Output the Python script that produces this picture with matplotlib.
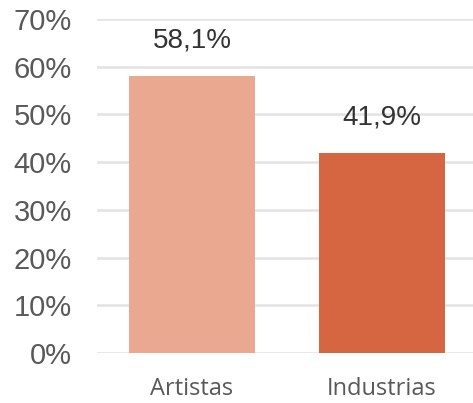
import matplotlib
matplotlib.use("Agg")
import matplotlib.pyplot as plt
from matplotlib.ticker import FuncFormatter

categories = ["Artistas", "Industrias"]
values = [58.1, 41.9]
value_labels = ["58,1%", "41,9%"]
colors = ["#EBA890", "#D66542"]
yticks = [0, 10, 20, 30, 40, 50, 60, 70]

fig = plt.figure(figsize=(4.73, 4.03), dpi=100)
ax = fig.add_axes([0.205, 0.124, 0.795, 0.829])

x = range(len(categories))
bars = ax.bar(x, values, width=0.665, color=colors, zorder=3)

for b, lab in zip(bars, value_labels):
    ax.annotate(lab, (b.get_x() + b.get_width() / 2, b.get_height()),
                xytext=(0, 16), textcoords="offset points", ha="center", va="bottom",
                fontsize=20, color="#333333", family="Liberation Sans")

ax.set_ylim(0, 70)
ax.set_xlim(-0.5, 1.48)
ax.set_yticks(yticks)
ax.yaxis.set_major_formatter(FuncFormatter(lambda v, p: f"{v:.0f}%"))
ax.grid(axis="y", color="#E3E3E3", lw=1.8, zorder=0)
ax.set_xticks(list(x), categories)
for lab in ax.get_yticklabels():
    lab.set_family("Liberation Sans")
    lab.set_fontsize(21)
    lab.set_color("#595959")
for lab in ax.get_xticklabels():
    lab.set_family("Open Sans")
    lab.set_fontsize(17)
    lab.set_color("#595959")
ax.tick_params(axis="both", length=0)
ax.tick_params(axis="y", pad=18)
ax.tick_params(axis="x", pad=17)
for s in ax.spines.values():
    s.set_visible(False)

fig.savefig("out.png", dpi=100)
